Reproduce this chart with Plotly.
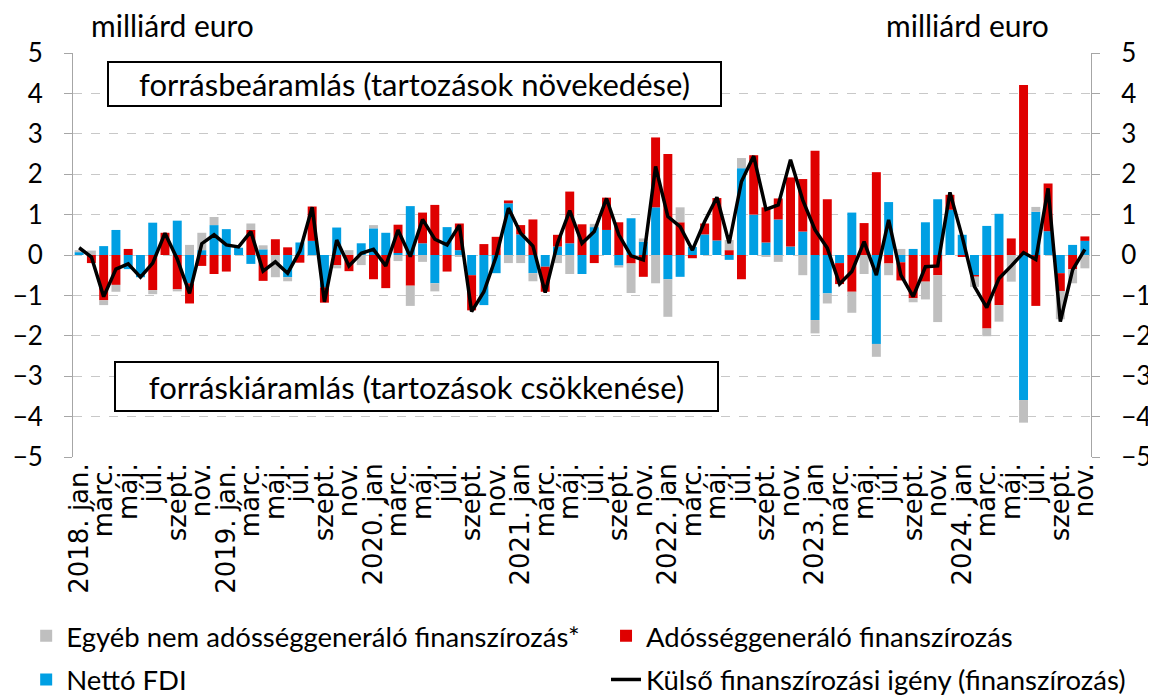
import plotly.graph_objects as go

years = [2018, 2019, 2020, 2021, 2022, 2023, 2024]
month_names = ["jan", "febr.", "márc.", "ápr.", "máj.", "jún.", "júl.", "aug.", "szept.", "okt.", "nov.", "dec."]
n_months = 83

cats = []
labels = []
for k in range(n_months):
    y = years[k // 12]
    m = k % 12
    cats.append(f"{y}-{m+1:02d}")
    if m == 0:
        labels.append(f"{y}. jan." if y < 2020 else f"{y}. jan")
    else:
        labels.append(month_names[m])

# Nettó FDI
fdi = [0.07, 0, 0.22, 0.62, -0.35, -0.55, 0.8, 0, 0.85, -0.7, 0.12, 0.74,
       0.64, 0.18, -0.22, 0.14, 0, -0.55, 0.31, 0.35, -0.8, 0.68, 0, 0.29,
       0.66, 0.55, 0.05, 1.21, 0.29, -0.7, 0.69, 0.12, -0.5, -1.24, -0.45, 1.28,
       0.51, -0.45, -0.29, 0.21, 0.29, -0.47, 0.69, 0.62, -0.26, 0.91, 0.33, 1.18,
       -0.6, -0.54, 0.2, 0.51, 0.36, -0.12, 2.15, 1.0, 0.31, 0.88, 0.21, 0.58,
       -1.61, -0.95, -0.2, 1.05, 0, -2.2, 1.31, -0.18, 0.15, 0.81, 1.38, 1.12,
       0.5, -0.5, 0.72, 1.02, 0, -3.59, 1.07, 0.59, -0.45, 0.25, 0.35]
# Adósséggeneráló finanszírozás
debt = [0, -0.2, -1.12, -0.74, 0.15, 0, -0.87, 0.55, -0.85, -0.5, -0.27, -0.47,
        -0.41, 0, 0.62, -0.64, 0.39, 0.19, -0.19, 0.85, -0.38, -0.25, -0.4, 0,
        -0.6, -0.82, 0.7, -0.76, 0.76, 1.24, -0.41, 0.66, -0.87, 0.27, 0.45, 0.07,
        0.23, 0.88, -0.62, 0.29, 1.28, 0.76, -0.2, 0.8, 0.81, -0.21, -0.54, 1.73,
        2.5, 0.81, -0.08, 0.27, 1.05, 0.12, -0.6, 1.47, 0.87, 0.52, 1.71, 1.3,
        2.58, 1.38, -0.52, -0.91, 0.79, 2.05, -0.21, -0.45, -1.07, -0.66, -0.5, 0.37,
        -0.05, -0.03, -1.82, -1.24, 0.41, 4.21, -1.26, 1.18, -0.44, -0.35, 0.11]
# Egyéb nem adósséggeneráló finanszírozás
other = [0.05, 0.11, -0.12, -0.17, 0, 0, -0.1, 0, -0.05, 0.25, 0.43, 0.2,
         0, 0, 0.16, 0.1, -0.55, -0.1, 0, 0, 0, -0.08, 0.12, -0.25,
         0.08, 0, -0.15, -0.5, -0.17, -0.2, 0, -0.04, 0, 0, 0, -0.2,
         -0.2, -0.2, 0, -0.2, -0.47, 0, 0.08, 0, -0.05, -0.73, 0.08, -0.7,
         -0.93, 0.37, 0, 0, 0, 0.25, 0.25, 0, -0.05, -0.17, 0, -0.5,
         -0.33, -0.25, 0, -0.52, -0.47, -0.32, -0.29, 0.15, -0.1, -0.44, -1.16, 0,
         0, -0.26, -0.19, -0.41, -0.66, -0.56, 0.12, 0, -0.7, -0.35, -0.33]
# Külső finanszírozási igény
need = [0.18, -0.05, -1.03, -0.35, -0.22, -0.55, -0.2, 0.54, -0.1, -0.95, 0.28, 0.5,
        0.25, 0.2, 0.58, -0.4, -0.17, -0.45, 0.1, 1.18, -1.16, 0.37, -0.27, 0.04,
        0.14, -0.27, 0.62, -0.04, 0.88, 0.39, 0.25, 0.74, -1.4, -0.91, -0.04, 1.16,
        0.54, 0.22, -0.93, 0.29, 1.1, 0.29, 0.58, 1.4, 0.5, -0.02, -0.12, 2.19,
        0.95, 0.7, 0.12, 0.83, 1.43, 0.29, 1.82, 2.45, 1.13, 1.24, 2.36, 1.36,
        0.62, 0.17, -0.72, -0.41, 0.33, -0.5, 0.87, -0.5, -1.03, -0.29, -0.27, 1.55,
        0.45, -0.78, -1.3, -0.58, -0.27, 0.06, -0.11, 1.65, -1.65, -0.37, 0.14]

tick_idx = list(range(0, n_months, 2))
tick_vals = [cats[i] for i in tick_idx]
tick_text = [labels[i] for i in tick_idx]

FONT = "Lato"

fig = go.Figure()
fig.add_trace(go.Bar(x=cats, y=fdi, name="Nettó FDI", marker=dict(color="#009FE3", line=dict(width=0)),
                     legend="legend3"))
fig.add_trace(go.Bar(x=cats, y=debt, name="Adósséggeneráló finanszírozás",
                     marker=dict(color="#DF0000", line=dict(width=0)), legend="legend2"))
fig.add_trace(go.Bar(x=cats, y=other, name="Egyéb nem adósséggeneráló finanszírozás*",
                     marker=dict(color="#BFBFBF", line=dict(width=0)), legend="legend"))
fig.add_trace(go.Scatter(x=cats, y=need, name="Külső finanszírozási igény (finanszírozás)", mode="lines",
                         line=dict(color="black", width=3.5), yaxis="y2", legend="legend4"))

axis_color = "#A6A6A6"
leg_font = dict(family=FONT, size=27.5, color="black")
col1_x, col2_x = -0.046, 0.5236
row1_y, row2_y = -0.443, -0.551


def leg(x, y):
    return dict(orientation="h", x=x, xanchor="left", y=y, yanchor="middle", font=leg_font,
                bgcolor="rgba(0,0,0,0)", borderwidth=0)


fig.update_layout(
    width=1148, height=687,
    margin=dict(l=65, r=65, t=45, b=238, autoexpand=False),
    paper_bgcolor="white", plot_bgcolor="white",
    barmode="relative", bargap=0.27,
    font=dict(family=FONT, size=26, color="black"),
    xaxis=dict(type="category", categoryorder="array", categoryarray=cats,
               range=[-0.5, n_months - 0.5],
               tickmode="array", tickvals=tick_vals, ticktext=tick_text,
               tickangle=-90, tickfont=dict(family="DejaVu Sans", size=26), ticks="", showgrid=False,
               showline=False, zeroline=False, automargin=False),
    xaxis2=dict(overlaying="x", anchor="free", position=0.5, range=[-0.5, n_months - 0.5],
                tickmode="array", tickvals=[k - 0.5 for k in range(n_months + 1)],
                showticklabels=False, ticks="outside", ticklen=10, tickwidth=1.5, tickcolor="#8C8C8C",
                showline=True, linecolor="#8C8C8C", linewidth=3, showgrid=False, zeroline=False),
    yaxis=dict(range=[-5, 5], tickvals=list(range(-5, 6)), showgrid=True, gridcolor="#C8C8C8",
               griddash="dash", gridwidth=1, zeroline=False, showline=True, linecolor=axis_color,
               ticks="outside", ticklen=8, tickcolor=axis_color, tickfont=dict(size=26),
               ticklabelstandoff=16, automargin=False),
    yaxis2=dict(range=[-5, 5], tickvals=list(range(-5, 6)), overlaying="y", side="right", showgrid=False,
                zeroline=False, showline=True, linecolor=axis_color, ticks="outside", ticklen=8,
                tickcolor=axis_color, tickfont=dict(size=26), ticklabelstandoff=16, automargin=False),
    legend=leg(col1_x, row1_y),
    legend2=leg(col2_x, row1_y),
    legend3=leg(col1_x, row2_y),
    legend4=leg(col2_x, row2_y),
    showlegend=True,
)

fig.add_annotation(text="forrásbeáramlás (tartozások növekedése)", xref="paper", yref="y",
                   x=0.3355, y=4.23, xanchor="center", yanchor="middle", showarrow=False,
                   font=dict(size=31), bordercolor="black", borderwidth=2, borderpad=4,
                   bgcolor="white", width=603, height=34)
fig.add_annotation(text="forráskiáramlás (tartozások csökkenése)", xref="paper", yref="y",
                   x=0.3374, y=-3.25, xanchor="center", yanchor="middle", showarrow=False,
                   font=dict(size=31), bordercolor="black", borderwidth=2, borderpad=4,
                   bgcolor="white", width=593, height=39)
fig.add_annotation(text="milliárd euro", xref="paper", yref="paper", x=0.098, y=1.069,
                   xanchor="center", yanchor="middle", showarrow=False, font=dict(size=30))
fig.add_annotation(text="milliárd euro", xref="paper", yref="paper", x=0.879, y=1.069,
                   xanchor="center", yanchor="middle", showarrow=False, font=dict(size=30))

fig.write_html("out.html")
